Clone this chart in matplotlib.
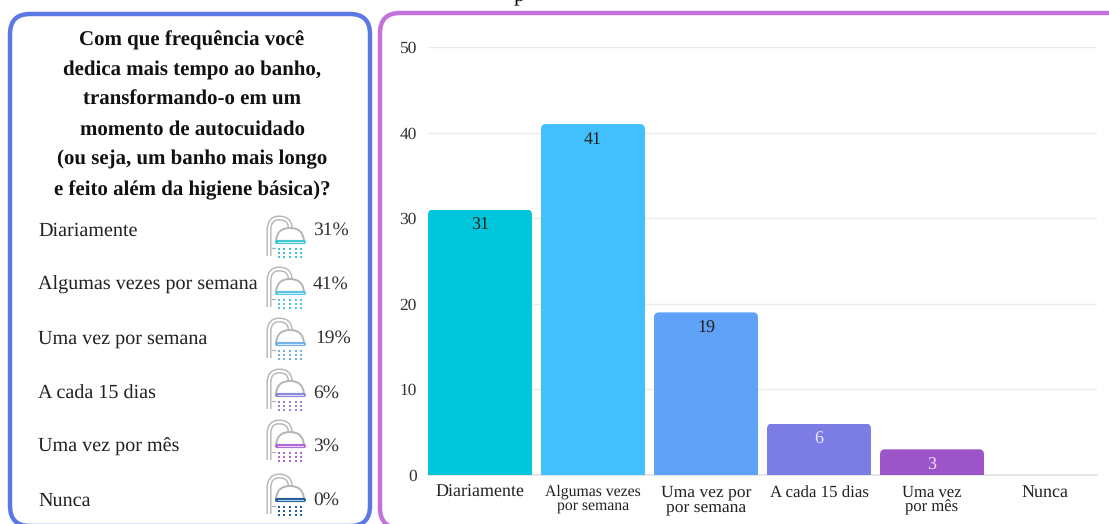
import matplotlib
matplotlib.use("Agg")
import matplotlib.pyplot as plt
from matplotlib.patches import FancyBboxPatch, PathPatch
from matplotlib.path import Path

plt.rcParams['font.family'] = ['Liberation Serif', 'DejaVu Serif']
plt.rcParams['text.hinting'] = 'no_hinting'

# data
title_lines = "Com que frequência você\ndedica mais tempo ao banho,\ntransformando-o em um\nmomento de autocuidado\n(ou seja, um banho mais longo\ne feito além da higiene básica)?"
rows = ["Diariamente", "Algumas vezes por semana", "Uma vez por semana",
        "A cada 15 dias", "Uma vez por mês", "Nunca"]
values = [31, 41, 19, 6, 3, 0]
tick_labels = ["Diariamente", "Algumas vezes\npor semana", "Uma vez por\npor semana",
               "A cada 15 dias", "Uma vez\npor mês", "Nunca"]
tick_sizes = [13, 11.3, 12.6, 12.2, 12, 13]
yticks = [0, 10, 20, 30, 40, 50]
bar_colors = ["#00C6DC", "#42C0FD", "#60A2F8", "#7B7DE5", "#9B55C9", "#9B55C9"]
label_colors = ["#222222", "#222222", "#222222", "#E8E8FF", "#F0E0FF", "#222222"]
icon_colors = ["#3FC6D4", "#55C3E6", "#72B0E6", "#8C88DC", "#AE68D6", "#1F5F9E"]
row_text_y = [230.5, 284.5, 338.5, 393.5, 446.5, 500.5]
icon_top_y = [216, 267, 318, 369, 420, 474]

W, H = 1109, 524
fig = plt.figure(figsize=(W / 100, H / 100), dpi=100)

# overlay in pixel coords
bg = fig.add_axes([0, 0, 1, 1])
bg.set_xlim(0, W)
bg.set_ylim(H, 0)
bg.axis("off")


def panel(x0, y0, x1, y1, color):
    bg.add_patch(FancyBboxPatch((x0 + 20, y0 + 20), x1 - x0 - 40, y1 - y0 - 40,
                                boxstyle="round,pad=20,rounding_size=20",
                                fc="white", ec=color, lw=3.2))


def shower(y, color):
    x = 267
    gray = "#B4B4B4"
    # pipe, outlined
    verts = [(x + 2, y + 40), (x + 2, y + 14), (x + 2, y + 2), (x + 12, y + 2),
             (x + 22, y + 2), (x + 23, y + 10), (x + 23, y + 12)]
    codes = [Path.MOVETO, Path.LINETO, Path.CURVE3, Path.CURVE3, Path.CURVE3, Path.CURVE3, Path.LINETO]
    p = Path(verts, codes)
    bg.add_patch(PathPatch(p, fc="none", ec=gray, lw=3.6, capstyle="butt"))
    bg.add_patch(PathPatch(p, fc="none", ec="white", lw=1.6, capstyle="butt"))
    bg.plot([x + 5, x + 8], [y + 32, y + 32], color=gray, lw=0.9)
    # head
    dome = Path([(x + 9, y + 25), (x + 10, y + 12), (x + 23, y + 12), (x + 36, y + 12), (x + 37, y + 25)],
                [Path.MOVETO, Path.CURVE3, Path.CURVE3, Path.CURVE3, Path.CURVE3])
    bg.add_patch(PathPatch(dome, fc="white", ec=gray, lw=1.4))
    bg.plot([x + 10, x + 37], [y + 26, y + 26], color=color, lw=3, solid_capstyle="round")
    bg.plot([x + 11, x + 36], [y + 26, y + 26], color="white", lw=0.8, alpha=0.7)
    # drops
    for dx in [12, 17, 23, 29, 34]:
        for dy in [33, 37, 41]:
            bg.plot([x + dx], [y + dy], ls="none", marker="s", ms=2, color=color, mew=0)


# panels run past the picture's bottom and right edges
panel(10, 14, 370, 526, "#5B78E5")
panel(380, 13, 1130, 528, "#C172DB")

bg.text(519, -4, "p", ha="center", va="center", fontsize=16, color="#111111")
bg.text(192, 115, title_lines, ha="center", va="center", fontsize=15, fontweight="bold",
        color="#111111", linespacing=1.74)

for i in range(len(rows)):
    bg.text(38, row_text_y[i], rows[i], ha="left", va="center", fontsize=14.5, color="#222222")
    shower(icon_top_y[i], icon_colors[i])
    px = 315 if i == 2 else 313
    bg.text(px, row_text_y[i], str(values[i]) + "%", ha="left", va="center", fontsize=14, color="#333333")

# bar chart, y=0 at px 475, y=50 at px 47
ax = fig.add_axes([428 / W, 1 - 475 / H, 669 / W, 428 / H])
ax.patch.set_alpha(0)
ax.set_xlim(-0.46, 5.46)
ax.set_ylim(0, 50)
for s in ax.spines.values():
    s.set_visible(False)
ax.set_yticks(yticks)
ax.set_yticklabels([str(t) for t in yticks], fontsize=12.5, color="#333333")
ax.grid(axis="y", color="#EBEBEB", lw=1)
ax.set_axisbelow(True)
ax.axhline(0, color="#E2E2E2", lw=1.2, clip_on=False, zorder=1)
ax.tick_params(length=0)
ax.tick_params(axis="y", pad=8)
ax.tick_params(axis="x", pad=7)
ax.set_xticks(range(len(tick_labels)))
ax.set_xticklabels(tick_labels, color="#222222", linespacing=0.95)
for lab, sz in zip(ax.get_xticklabels(), tick_sizes):
    lab.set_fontsize(sz)

bars = ax.bar(range(len(values)), values, width=0.92, color=bar_colors, zorder=2)
for b, v, c in zip(bars, values, label_colors):
    if v == 0:
        continue
    # round only the top corners: clip to a rounded box running past the baseline
    (x0, y0), (x1, y1) = ax.transData.transform([(b.get_x(), 0), (b.get_x() + b.get_width(), v)])
    clip = FancyBboxPatch((x0 + 5, y0 - 20), x1 - x0 - 10, y1 - y0 + 15,
                          boxstyle="round,pad=5,rounding_size=5", transform=None)
    b.set_clip_path(clip)
    ax.annotate(str(v), (b.get_x() + b.get_width() / 2, v), xytext=(0, -14.5), textcoords="offset points",
                ha="center", va="baseline", fontsize=13, color=c, zorder=3)

fig.savefig("out.png", dpi=100)
